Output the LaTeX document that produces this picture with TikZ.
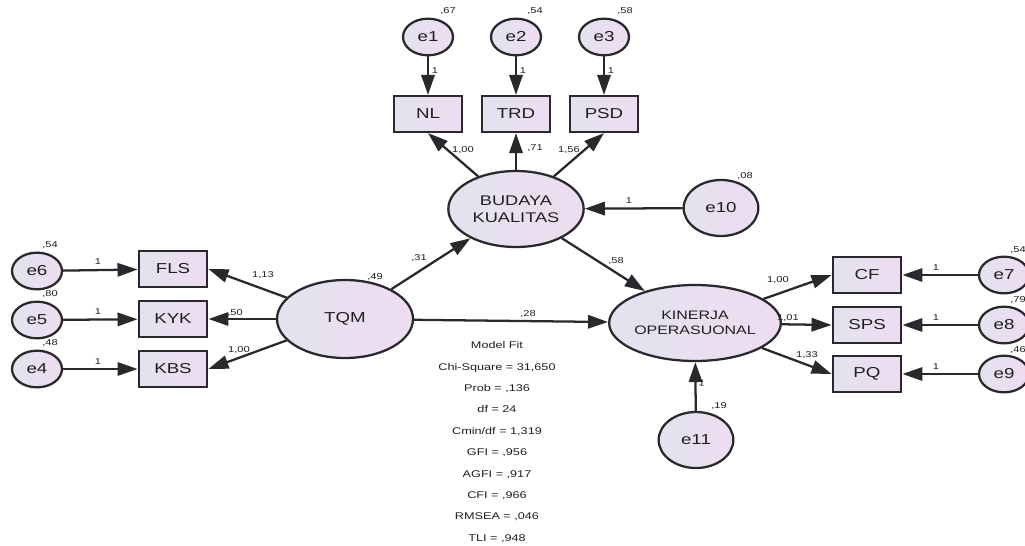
\documentclass[tikz,border=0pt]{standalone}
\usepackage{fontspec}
\setmainfont{Liberation Sans}
\usetikzlibrary{shapes.geometric,arrows.meta}
\definecolor{lfill}{RGB}{226,227,238}
\definecolor{rfill}{RGB}{239,220,242}
\definecolor{ink}{RGB}{40,40,45}
\definecolor{txt}{RGB}{30,30,35}
\newcommand{\hs}[1]{\scalebox{1.3}[1]{#1}}
\begin{document}
\begin{tikzpicture}[x=0.75pt,y=-0.75pt,
  shp/.style={draw=ink, line width=1.7pt, left color=lfill, right color=rfill, inner sep=0pt, text=txt},
  obs/.style={shp, rectangle, minimum width=51.5pt, minimum height=27pt, font=\fontsize{10.8}{12}\selectfont},
  err/.style={shp, ellipse, minimum width=37.5pt, minimum height=27.5pt, font=\fontsize{10.8}{12}\selectfont},
  bigerr/.style={shp, ellipse, minimum width=56pt, minimum height=42pt, font=\fontsize{10.8}{12}\selectfont},
  lat/.style={shp, ellipse, minimum width=101.5pt, minimum height=57pt, align=center},
  lbl/.style={font=\fontsize{6.4}{7}\selectfont, inner sep=0pt, text=txt},
  arr/.style={draw=ink, line width=1.7pt, -{Triangle[length=15pt,width=10pt]}}
]
\clip (0,0) rectangle (1025,546);
\fill[white] (0,0) rectangle (1025,546);

% top error terms and indicators
\node[err] (e1) at (428,37) {\hs{e1}};
\node[err] (e2) at (516,37) {\hs{e2}};
\node[err] (e3) at (604,37) {\hs{e3}};
\node[obs] (NL) at (428,114) {\hs{NL}};
\node[obs] (TRD) at (516,114) {\hs{TRD}};
\node[obs] (PSD) at (604,114) {\hs{PSD}};

% latent variables
\node[lat, font=\fontsize{10.5}{12.5}\selectfont] (BK) at (516,209) {\hs{BUDAYA}\\\hs{KUALITAS}};
\node[lat, minimum width=102pt, minimum height=58.5pt, font=\fontsize{10.8}{12}\selectfont] (TQM) at (345,319) {\hs{TQM}};
\node[lat, font=\fontsize{9.2}{11}\selectfont] (KO) at (695,323) {\hs{KINERJA}\\\hs{OPERASUONAL}};
\node[bigerr] (e10) at (721,208) {\hs{e10}};
\node[bigerr] (e11) at (696,440) {\hs{e11}};

% left
\node[obs] (FLS) at (173,269) {\hs{FLS}};
\node[obs] (KYK) at (173,319) {\hs{KYK}};
\node[obs] (KBS) at (173,369) {\hs{KBS}};
\node[err] (e6) at (37,271) {\hs{e6}};
\node[err] (e5) at (37,320) {\hs{e5}};
\node[err] (e4) at (37,369) {\hs{e4}};

% right
\node[obs] (CF) at (867,275) {\hs{CF}};
\node[obs] (SPS) at (867,325) {\hs{SPS}};
\node[obs] (PQ) at (867,374) {\hs{PQ}};
\node[err] (e7) at (1004,275) {\hs{e7}};
\node[err] (e8) at (1004,325) {\hs{e8}};
\node[err] (e9) at (1004,374) {\hs{e9}};

% connectors
\draw[arr] (e1) -- (NL);
\draw[arr] (e2) -- (TRD);
\draw[arr] (e3) -- (PSD);
\draw[arr] (BK) -- (NL.south);
\draw[arr] (BK) -- (TRD.south);
\draw[arr] (BK) -- (PSD.south);
\draw[arr] (e10) -- (BK);
\draw[arr] (TQM) -- (BK);
\draw[arr] (BK) -- (KO);
\draw[arr] (TQM) -- (KO);
\draw[arr] (TQM) -- (FLS.east);
\draw[arr] (TQM) -- (KYK.east);
\draw[arr] (TQM) -- (KBS.east);
\draw[arr] (e6) -- (FLS);
\draw[arr] (e5) -- (KYK);
\draw[arr] (e4) -- (KBS);
\draw[arr] (KO) -- (CF.west);
\draw[arr] (KO) -- (SPS.west);
\draw[arr] (KO) -- (PQ.west);
\draw[arr] (e7) -- (CF);
\draw[arr] (e8) -- (SPS);
\draw[arr] (e9) -- (PQ);
\draw[arr] (e11) -- (KO);

% labels
\node[lbl] (v1) at (448,11) {\hs{,67}};
\node[lbl] (v2) at (535,11) {\hs{,54}};
\node[lbl] (v3) at (625,11) {\hs{,58}};
\node[lbl] (w1) at (435,71) {\hs{1}};
\node[lbl] (w2) at (523,71) {\hs{1}};
\node[lbl] (w3) at (611,71) {\hs{1}};
\node[lbl] (c1) at (463,150) {\hs{1,00}};
\node[lbl] (c2) at (535,148) {\hs{,71}};
\node[lbl] (c3) at (569,150) {\hs{1,56}};
\node[lbl] (v10) at (745,176) {\hs{,08}};
\node[lbl] (w10) at (629,201) {\hs{1}};
\node[lbl] (p1) at (419,258) {\hs{,31}};
\node[lbl] (p2) at (616,261) {\hs{,58}};
\node[lbl] (p3) at (528,314) {\hs{,28}};
\node[lbl] (vT) at (375,277) {\hs{,49}};
\node[lbl] (v6) at (50,245) {\hs{,54}};
\node[lbl] (v5) at (50,294) {\hs{,80}};
\node[lbl] (v4) at (50,343) {\hs{,48}};
\node[lbl] (w6) at (98,262) {\hs{1}};
\node[lbl] (w5) at (98,312) {\hs{1}};
\node[lbl] (w4) at (98,362) {\hs{1}};
\node[lbl] (c4) at (263,275) {\hs{1,13}};
\node[lbl] (c5) at (235,313) {\hs{,50}};
\node[lbl] (c6) at (239,350) {\hs{1,00}};
\node[lbl] (c7) at (778,280) {\hs{1,00}};
\node[lbl] (c8) at (788,318) {\hs{1,01}};
\node[lbl] (c9) at (807,355) {\hs{1,33}};
\node[lbl] (w7) at (936,268) {\hs{1}};
\node[lbl] (w8) at (936,318) {\hs{1}};
\node[lbl] (w9) at (936,367) {\hs{1}};
\node[lbl] (v7) at (1018,250) {\hs{,54}};
\node[lbl] (v8) at (1018,300) {\hs{,79}};
\node[lbl] (v9) at (1018,350) {\hs{,46}};
\node[lbl, rotate=-10] (w11) at (702,383) {\hs{1}};
\node[lbl] (v11) at (719,406) {\hs{,19}};

% model fit
\node[align=center, inner sep=0pt, text=txt, font=\fontsize{7.3}{16.05}\selectfont] (fit) at (497,442) {\hs{Model Fit}\\\hs{Chi-Square = 31,650}\\\hs{Prob = ,136}\\\hs{df = 24}\\\hs{Cmin/df = 1,319}\\\hs{GFI = ,956}\\\hs{AGFI = ,917}\\\hs{CFI = ,966}\\\hs{RMSEA = ,046}\\\hs{TLI = ,948}};
\end{tikzpicture}
\end{document}
